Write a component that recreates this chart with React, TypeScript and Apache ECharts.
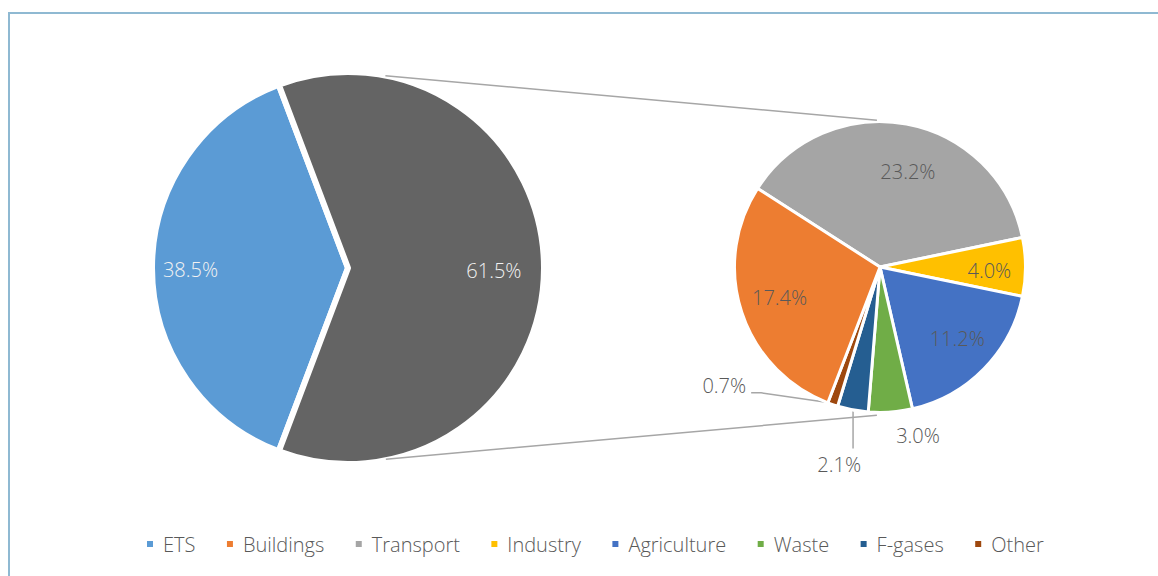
import React, { useEffect, useRef } from 'react';
import * as echarts from 'echarts';

// ---- data ----
const MAIN_NAMES = ['ETS', 'Non-ETS'];
const MAIN_VALUES = [38.5, 61.5];
const MAIN_COLORS = ['#5B9BD5', '#646464'];

const SUB_NAMES = ['Transport', 'Industry', 'Agriculture', 'Waste', 'F-gases', 'Other', 'Buildings'];
const SUB_VALUES = [23.2, 4.0, 11.2, 3.0, 2.1, 0.7, 17.4];
const SUB_COLORS = ['#A5A5A5', '#FFC000', '#4472C4', '#70AD47', '#255E91', '#9E480E', '#ED7D31'];

const LEGEND_NAMES = ['ETS', 'Buildings', 'Transport', 'Industry', 'Agriculture', 'Waste', 'F-gases', 'Other'];

// ---- layout ----
const FONT = "'Open Sans', 'Noto Sans', sans-serif";
const BIG = { cx: 348, cy: 268, r: 193 };
const SMALL = { cx: 880, cy: 267, r: 144 };
const BIG_START = 249.3;
const SMALL_START = 147.3;
const BIG_BORDER = 6;
const SMALL_BORDER = 3;
// label placement: [angle adjustment from slice middle (deg), radius factor]
const BIG_LABEL = [[0.7, 0.816], [-0.8, 0.756]];
const SMALL_LABEL = [[-5.8, 0.69], [-1.6, 0.76], [1.7, 0.73], [8.6, 1.2], [-0.9, 1.4], [-33.7, 1.36], [-1, 0.73]];
const OUTSIDE = ['Waste', 'F-gases', 'Other'];
const WITH_LINE = ['F-gases', 'Other'];

type Circle = { cx: number; cy: number; r: number };
const polar = (c: Circle, deg: number, rf: number): number[] => {
  const a = (deg * Math.PI) / 180;
  return [c.cx + c.r * rf * Math.cos(a), c.cy - c.r * rf * Math.sin(a)];
};
const midAngles = (values: number[], start: number): number[] => {
  const total = values.reduce((s, v) => s + v, 0);
  let cum = 0;
  return values.map((v) => {
    const m = start - ((cum + v / 2) / total) * 360;
    cum += v;
    return m;
  });
};

export default function App() {
  const ref = useRef<HTMLDivElement>(null);
  useEffect(() => {
    if (!ref.current) return;
    const chart = echarts.init(ref.current, undefined, { renderer: 'svg' });
    const bigMid = midAngles(MAIN_VALUES, BIG_START);
    const smallMid = midAngles(SUB_VALUES, SMALL_START);

    const topA = polar(BIG, 79, 1.015);
    const topB = polar(SMALL, 91.2, 1.02);
    const botA = polar(BIG, -78.8, 1.01);
    const botB = polar(SMALL, -91.2, 1.03);

    const option: any = {
      animation: false,
      backgroundColor: '#ffffff',
      textStyle: { fontFamily: FONT },
      legend: {
        data: LEGEND_NAMES,
        left: 140,
        top: 529,
        icon: 'rect',
        itemWidth: 8,
        itemHeight: 8,
        itemGap: 29.5,
        selectedMode: false,
        textStyle: { fontSize: 20, color: '#595959', fontFamily: FONT, fontWeight: 300, padding: [0, 0, 0, 4] },
      },
      graphic: [
        {
          type: 'rect',
          shape: { x: 9, y: 13, width: 1300, height: 700 },
          style: { fill: 'none', stroke: '#8FB9D2', lineWidth: 2 },
          silent: true,
        },
        {
          type: 'line',
          z: 100,
          shape: { x1: topA[0], y1: topA[1], x2: topB[0], y2: topB[1] },
          style: { stroke: '#A6A6A6', lineWidth: 1.5 },
          silent: true,
        },
        {
          type: 'line',
          z: 100,
          shape: { x1: botA[0], y1: botA[1], x2: botB[0], y2: botB[1] },
          style: { stroke: '#A6A6A6', lineWidth: 1.5 },
          silent: true,
        },
      ],
      series: [
        {
          type: 'pie',
          silent: true,
          center: [BIG.cx, BIG.cy],
          radius: BIG.r + BIG_BORDER / 2,
          startAngle: BIG_START,
          clockwise: true,
          avoidLabelOverlap: false,
          itemStyle: { borderColor: '#ffffff', borderWidth: BIG_BORDER },
          label: {
            show: true,
            position: 'inside',
            color: '#F2F2F2',
            fontSize: 20,
            fontFamily: FONT,
            fontWeight: 300,
            formatter: (p: any) => p.value.toFixed(1) + '%',
          },
          labelLine: { show: false },
          labelLayout: (p: any) => {
            const i = p.dataIndex;
            const [x, y] = polar(BIG, bigMid[i] + BIG_LABEL[i][0], BIG_LABEL[i][1]);
            return { x, y, align: 'center', verticalAlign: 'middle' };
          },
          data: MAIN_NAMES.map((n, i) => ({ name: n, value: MAIN_VALUES[i], itemStyle: { color: MAIN_COLORS[i] } })),
        },
        {
          type: 'pie',
          silent: true,
          center: [SMALL.cx, SMALL.cy],
          radius: SMALL.r + SMALL_BORDER / 2,
          startAngle: SMALL_START,
          clockwise: true,
          avoidLabelOverlap: false,
          itemStyle: { borderColor: '#ffffff', borderWidth: SMALL_BORDER },
          label: {
            show: true,
            position: 'inside',
            color: '#595959',
            fontSize: 20,
            fontFamily: FONT,
            fontWeight: 300,
            formatter: (p: any) => p.value.toFixed(1) + '%',
          },
          labelLine: { show: false, lineStyle: { color: '#A6A6A6', width: 1.5 } },
          labelLayout: (p: any) => {
            const i = p.dataIndex;
            const [x, y] = polar(SMALL, smallMid[i] + SMALL_LABEL[i][0], SMALL_LABEL[i][1]);
            const out: any = { x, y, align: 'center', verticalAlign: 'middle' };
            const name = SUB_NAMES[i];
            const w = p.labelRect ? p.labelRect.width : 44;
            const edge = polar(SMALL, smallMid[i], 1.0);
            if (name === 'F-gases') {
              const endY = y - 16;
              out.labelLinePoints = [edge, [edge[0], (edge[1] + endY) / 2], [edge[0], endY]];
            } else if (name === 'Other') {
              out.labelLinePoints = [edge, [x + w / 2 + 15, y + 7], [x + w / 2 + 5, y + 7]];
            }
            return out;
          },
          data: SUB_NAMES.map((n, i) => ({
            name: n,
            value: SUB_VALUES[i],
            itemStyle: { color: SUB_COLORS[i] },
            label: OUTSIDE.includes(n) ? { position: 'outside' } : undefined,
            labelLine: { show: WITH_LINE.includes(n), length: 10, length2: 10 },
          })),
        },
      ],
    };
    chart.setOption(option);
    return () => chart.dispose();
  }, []);
  return <div ref={ref} style={{ position: 'fixed', left: 0, top: 0, width: 1158, height: 576 }} />;
}
